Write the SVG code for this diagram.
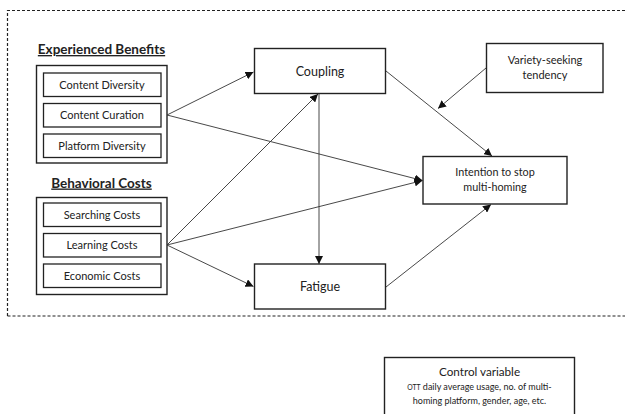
<svg xmlns="http://www.w3.org/2000/svg" width="625" height="414" viewBox="0 0 625 414">
<defs>
<marker id="ah" viewBox="0 0 10 10" refX="10" refY="5" markerWidth="8" markerHeight="8" markerUnits="userSpaceOnUse" orient="auto">
<path d="M0,0 L10,5 L0,10 z" fill="#111"/>
</marker>
<style>
.bx{fill:#fff;stroke:#222;stroke-width:1.4}
.ib{fill:#fff;stroke:#222;stroke-width:1.3}
.t{font-family:Lato,"Open Sans",sans-serif;fill:#222;text-anchor:middle}
.s{font-size:11px}
.m{font-size:12.5px}
.h{font-size:13.5px;font-weight:bold;text-decoration:underline}
.c{fill:none;stroke:#333;stroke-width:0.9;marker-end:url(#ah)}
.d{fill:none;stroke:#222;stroke-width:1.2;stroke-dasharray:3 2}
</style>
</defs>
<path class="d" d="M7.5,316 V10.5 H625"/>
<path class="d" d="M7.5,316 H625"/>
<g id="benefits">
<text class="t h" x="101.5" y="54">Experienced Benefits</text>
<rect class="bx" x="36.5" y="65.5" width="130.5" height="97.5"/>
<rect class="ib" x="43.5" y="73" width="117.5" height="23.5"/>
<text class="t s" x="102" y="88.5">Content Diversity</text>
<rect class="ib" x="43.5" y="103.5" width="117.5" height="23.5"/>
<text class="t s" x="102" y="119">Content Curation</text>
<rect class="ib" x="43.5" y="134" width="117.5" height="23.5"/>
<text class="t s" x="102" y="149.5">Platform Diversity</text>
</g>
<g id="costs">
<text class="t h" x="101.5" y="187.5">Behavioral Costs</text>
<rect class="bx" x="36.5" y="197.5" width="130.5" height="97"/>
<rect class="ib" x="43.5" y="203" width="117.5" height="23.5"/>
<text class="t s" x="102" y="218.5">Searching Costs</text>
<rect class="ib" x="43.5" y="233.5" width="117.5" height="23.5"/>
<text class="t s" x="102" y="249">Learning Costs</text>
<rect class="ib" x="43.5" y="264" width="117.5" height="23.5"/>
<text class="t s" x="102" y="279.5">Economic Costs</text>
</g>
<g id="connectors">
<line class="c" x1="167" y1="115" x2="253.5" y2="72"/>
<line class="c" x1="167" y1="115" x2="422.5" y2="180.5"/>
<line class="c" x1="167" y1="245" x2="318" y2="94"/>
<line class="c" x1="167" y1="245" x2="422.5" y2="180.5"/>
<line class="c" x1="167" y1="245" x2="253.5" y2="286.5"/>
<line class="c" x1="319" y1="93.5" x2="319" y2="264"/>
<line class="c" x1="386" y1="71" x2="492" y2="156"/>
<line class="c" x1="486" y1="68" x2="438" y2="108.5"/>
<line class="c" x1="386" y1="287" x2="491" y2="204.5"/>
</g>
<g id="coupling">
<rect class="bx" x="254.5" y="48.5" width="131" height="45"/>
<text class="t m" x="320" y="75.5">Coupling</text>
</g>
<g id="fatigue">
<rect class="bx" x="254.5" y="264" width="131" height="45"/>
<text class="t m" x="320" y="291">Fatigue</text>
</g>
<g id="variety">
<rect class="bx" x="486.5" y="43.5" width="116.5" height="49"/>
<text class="t s" x="545" y="64">Variety-seeking</text>
<text class="t s" x="545" y="79">tendency</text>
</g>
<g id="intention">
<rect class="bx" x="423" y="156.5" width="144" height="47.5"/>
<text class="t" x="495" y="175.5" font-size="10.8">Intention to stop</text>
<text class="t" x="495" y="190.5" font-size="10.8">multi-homing</text>
</g>
<g id="control">
<rect class="bx" x="384.5" y="357.5" width="190" height="60"/>
<text class="t" x="479.5" y="375.5" font-size="11.7">Control variable</text>
<text class="t" x="479.5" y="389.5" font-size="9"><tspan font-size="6.8">OTT</tspan> daily average usage, no. of multi-</text>
<text class="t" x="479.5" y="404" font-size="9">homing platform, gender, age, etc.</text>
</g>
</svg>
